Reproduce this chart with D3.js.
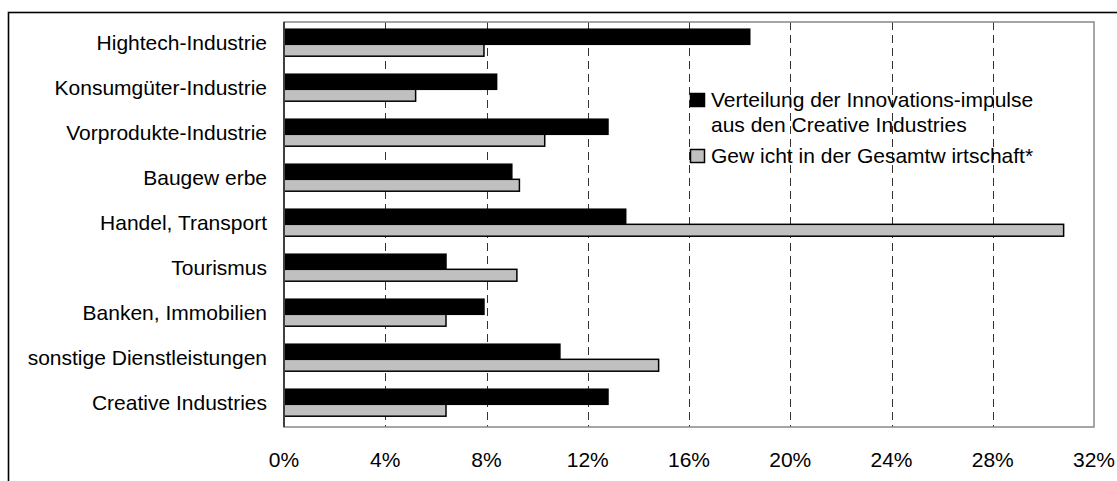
<!DOCTYPE html>
<html>
    <head>
        <meta charset="utf-8">
        <title>Innovationsimpulse</title>
        <style type="text/css">
          body { margin: 0; background: #fff; }
          text { font-family: "Liberation Sans", Arial, sans-serif; fill: #000; }
          .cat text { font-size: 21px; text-anchor: end; }
          .tick text { font-size: 21px; text-anchor: middle; }
          .legend text { font-size: 21px; }
        </style>
        <script src="https://d3js.org/d3.v7.min.js" charset="utf-8"></script>
    </head>
    <body>
    <script>
        // data (percent)
        var categories = ["Hightech-Industrie", "Konsumgüter-Industrie", "Vorprodukte-Industrie",
            "Baugew erbe", "Handel, Transport", "Tourismus", "Banken, Immobilien",
            "sonstige Dienstleistungen", "Creative Industries"];
        var innovation = [18.4, 8.4, 12.8, 9.0, 13.5, 6.4, 7.9, 10.9, 12.8];
        var weight = [7.9, 5.2, 10.3, 9.3, 30.8, 9.2, 6.4, 14.8, 6.4];
        var ticks = [0, 4, 8, 12, 16, 20, 24, 28, 32];
        var seriesNames = ["innovation", "weight"];
        var legendLines = [["Verteilung der Innovations-impulse", "aus den Creative Industries"],
                           ["Gew icht in der Gesamtw irtschaft*"]];

        var width = 1117, height = 481;
        var plot = {left: 284, right: 1094, top: 22, bottom: 427};
        var fills = {innovation: "#000000", weight: "#c0c0c0"};

        var svg = d3.select("body").append("svg")
            .attr("width", width)
            .attr("height", height);

        // outer frame (runs off the right and bottom edge)
        svg.append("rect")
            .attr("x", 8.5).attr("y", 12.5)
            .attr("width", 1300).attr("height", 600)
            .attr("fill", "none")
            .attr("stroke", "#000")
            .attr("stroke-width", 1.6);

        var x = d3.scaleLinear()
            .domain([0, 32])
            .range([plot.left, plot.right]);

        var y = d3.scaleBand()
            .domain(categories)
            .range([plot.top, plot.bottom])
            .paddingInner(0.4)
            .paddingOuter(0.2)
            .align(0.4);

        // black bar is a bit taller than the grey one, as in the original
        var split = y.bandwidth() * 0.56;
        var ySeries = d3.scaleOrdinal()
            .domain(seriesNames)
            .range([[0, split], [split, y.bandwidth()]]);

        // dashed grid lines
        svg.append("g").selectAll("line")
            .data(ticks.slice(1, -1))
            .enter().append("line")
              .attr("x1", function(d) { return Math.round(x(d)) + 0.5; })
              .attr("x2", function(d) { return Math.round(x(d)) + 0.5; })
              .attr("y1", plot.top)
              .attr("y2", plot.bottom)
              .attr("stroke", "#333")
              .attr("stroke-width", 1)
              .attr("stroke-dasharray", "8,5");

        // bars
        var rows = categories.map(function(c, i) {
            return {cat: c, innovation: innovation[i], weight: weight[i]};
        });

        var groups = svg.append("g").selectAll("g")
            .data(rows)
            .enter().append("g")
              .attr("transform", function(d) { return "translate(0," + y(d.cat) + ")"; });

        groups.selectAll("rect")
            .data(function(d) {
                return seriesNames.map(function(s) { return {key: s, value: d[s]}; });
            })
            .enter().append("rect")
              .attr("x", x(0))
              .attr("y", function(d) { return ySeries(d.key)[0]; })
              .attr("width", function(d) { return x(d.value) - x(0); })
              .attr("height", function(d) { return ySeries(d.key)[1] - ySeries(d.key)[0]; })
              .attr("fill", function(d) { return fills[d.key]; })
              .attr("stroke", "#000")
              .attr("stroke-width", 1.5);

        // plot area border
        svg.append("rect")
            .attr("x", plot.left).attr("y", plot.top)
            .attr("width", plot.right - plot.left)
            .attr("height", plot.bottom - plot.top)
            .attr("fill", "none")
            .attr("stroke", "#888")
            .attr("stroke-width", 1.5);

        svg.append("line")
            .attr("x1", plot.left).attr("x2", plot.left)
            .attr("y1", plot.top).attr("y2", plot.bottom)
            .attr("stroke", "#404040")
            .attr("stroke-width", 2);

        // category labels
        svg.append("g").attr("class", "cat").selectAll("text")
            .data(categories)
            .enter().append("text")
              .attr("x", plot.left - 17)
              .attr("y", function(d) { return y(d) + y.bandwidth() / 2 + 7; })
              .text(function(d) { return d; });

        // x tick labels
        svg.append("g").attr("class", "tick").selectAll("text")
            .data(ticks)
            .enter().append("text")
              .attr("x", function(d) { return x(d); })
              .attr("y", 467)
              .text(function(d) { return d + "%"; });

        // legend
        var legend = svg.append("g").attr("class", "legend");
        var legendTop = [93, 149];
        seriesNames.forEach(function(s, i) {
            legend.append("rect")
                .attr("x", 690.5).attr("y", legendTop[i] + 0.5)
                .attr("width", 14).attr("height", 13)
                .attr("fill", fills[s])
                .attr("stroke", "#000")
                .attr("stroke-width", 1.5);
            legendLines[i].forEach(function(line, j) {
                legend.append("text")
                    .attr("x", 711)
                    .attr("y", legendTop[i] + 14 + j * 25)
                    .text(line);
            });
        });
    </script>
    </body>
</html>
